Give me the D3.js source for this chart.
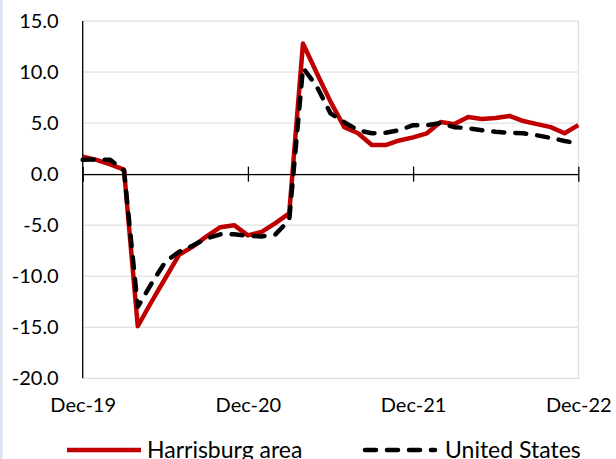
<!DOCTYPE html>
<html>
<head>
<meta charset="utf-8">
<script src="https://cdn.jsdelivr.net/npm/d3@7"></script>
<style>
  html, body { margin: 0; padding: 0; background: #fff; }
  svg { display: block; }
  text { font-family: Lato, "Open Sans", sans-serif; fill: #000; }
</style>
</head>
<body>
<svg id="chart" width="616" height="459"></svg>
<script>
const months = d3.range(37); // Dec-19 .. Dec-22, monthly index
const xTickValues = [0, 12, 24, 36];
const xTickLabels = ["Dec-19", "Dec-20", "Dec-21", "Dec-22"];
const yTickValues = [-20, -15, -10, -5, 0, 5, 10, 15];
const seriesNames = ["Harrisburg area", "United States"];
const harrisburg = [1.7, 1.4, 0.95, 0.45, -14.9, -12.5, -10.2, -7.9, -7.1, -6.1, -5.2, -5.0, -6.0,
  -5.65, -4.8, -3.85, 12.8, 9.9, 7.1, 4.6, 4.0, 2.85, 2.85, 3.3, 3.6,
  4.0, 5.1, 4.9, 5.6, 5.4, 5.5, 5.7, 5.2, 4.9, 4.6, 4.0, 4.8];
const unitedStates = [1.4, 1.45, 1.4, 0.35, -13.0, -10.7, -8.6, -7.6, -7.0, -6.3, -5.9, -5.9, -6.05,
  -6.1, -5.9, -4.5, 10.4, 8.6, 5.95, 5.1, 4.3, 4.0, 4.05, 4.3, 4.8,
  4.8, 5.0, 4.6, 4.5, 4.3, 4.15, 4.05, 4.0, 3.8, 3.55, 3.25, 3.0];

const svg = d3.select("#chart");
const pLeft = 82.7, pRight = 578.3, pTop = 21, pBottom = 378.3;
const x = d3.scaleLinear().domain([0, 36]).range([pLeft, pRight]);
const y = d3.scaleLinear().domain([-20, 15]).range([pBottom, pTop]);
const FONT = "Lato, 'Open Sans', sans-serif";
const fmt = d => d.toFixed(1);

// left light-blue frame strip
svg.append("rect").attr("x", 0).attr("y", 0).attr("width", 2.5).attr("height", 459).attr("fill", "#dae3f3");

// gridlines
svg.append("g").selectAll("line").data(yTickValues).join("line")
  .attr("x1", pLeft).attr("x2", pRight)
  .attr("y1", d => y(d)).attr("y2", d => y(d))
  .attr("stroke", "#d9d9d9").attr("stroke-width", 1);
// right border
svg.append("line").attr("x1", pRight).attr("x2", pRight).attr("y1", pTop).attr("y2", pBottom)
  .attr("stroke", "#d9d9d9").attr("stroke-width", 1);

// y axis labels
const yAxis = d3.axisLeft(y).tickValues(yTickValues).tickFormat(fmt).tickSize(0).tickPadding(24);
const gy = svg.append("g").attr("transform", `translate(${pLeft},0)`).call(yAxis);
gy.select(".domain").remove();
gy.selectAll("text").style("font-family", FONT).style("font-size", "20px").attr("fill", "#000");
// y axis line
svg.append("line").attr("x1", pLeft).attr("x2", pLeft).attr("y1", pTop).attr("y2", pBottom)
  .attr("stroke", "#000").attr("stroke-width", 1.3);

// x axis at zero with crossing ticks
const xAxis = d3.axisBottom(x).tickValues(xTickValues).tickFormat("").tickSizeOuter(0);
const gx = svg.append("g").attr("transform", `translate(0,${y(0)})`).call(xAxis);
gx.select(".domain").attr("stroke", "#000").attr("stroke-width", 1.3);
gx.selectAll(".tick line").attr("y1", -7.5).attr("y2", 7.5).attr("stroke", "#000").attr("stroke-width", 1.3);

// x labels at bottom
const xLab = d3.axisBottom(x).tickValues(xTickValues).tickFormat((d, i) => xTickLabels[i]).tickSize(0).tickPadding(20);
const gxl = svg.append("g").attr("transform", `translate(0,${pBottom})`).call(xLab);
gxl.select(".domain").remove();
gxl.selectAll("text").style("font-family", FONT).style("font-size", "20px").attr("fill", "#000");

// lines
const line = d3.line().x((d, i) => x(months[i])).y(d => y(d));
svg.append("path").datum(harrisburg).attr("d", line)
  .attr("fill", "none").attr("stroke", "#c00000").attr("stroke-width", 4.5)
  .attr("stroke-linejoin", "round");
svg.append("path").datum(unitedStates).attr("d", line)
  .attr("fill", "none").attr("stroke", "#000").attr("stroke-width", 4.5)
  .attr("stroke-dasharray", "11,11").attr("stroke-linecap", "round").attr("stroke-linejoin", "round");

// legend
const legY = 450;
const leg = svg.append("g");
leg.append("line").attr("x1", 67).attr("x2", 141).attr("y1", legY).attr("y2", legY)
  .attr("stroke", "#c00000").attr("stroke-width", 4.5);
leg.append("text").attr("x", 147).attr("y", legY + 8).style("font-size", "23px").text(seriesNames[0]);
leg.append("line").attr("x1", 365).attr("x2", 435).attr("y1", legY).attr("y2", legY)
  .attr("stroke", "#000").attr("stroke-width", 4.5)
  .attr("stroke-dasharray", "11,11").attr("stroke-linecap", "round");
leg.append("text").attr("x", 445).attr("y", legY + 8).style("font-size", "23px").text(seriesNames[1]);
</script>
</body>
</html>
